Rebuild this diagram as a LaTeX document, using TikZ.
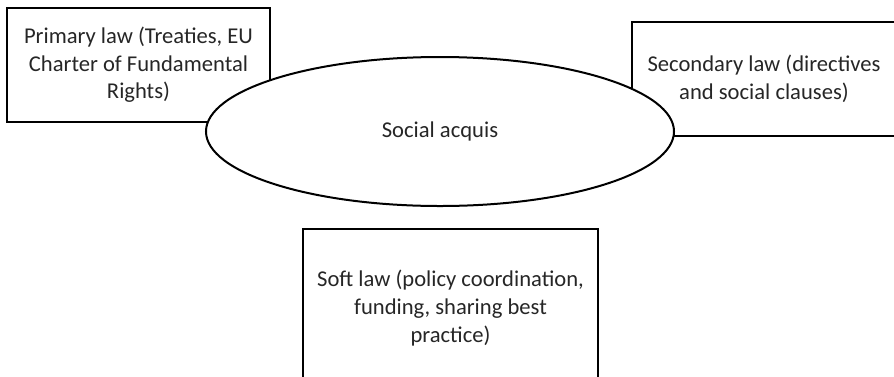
\documentclass[tikz,border=0pt]{standalone}
\usepackage{fontspec}
\setmainfont{Carlito}
\usetikzlibrary{shapes.geometric}

\begin{document}
\begin{tikzpicture}[x=0.5pt,y=-0.5pt,
    lawbox/.style={draw,line width=1pt,align=center,inner sep=0pt,
      text=black!85,font=\fontsize{11.3}{13.8}\selectfont},
    acquis/.style={ellipse,draw,fill=white,line width=1pt,inner sep=0pt,
      minimum width=234pt,minimum height=74.5pt,
      text=black!85,font=\fontsize{11.3}{13.8}\selectfont}]
  \useasboundingbox (0,0) rectangle (894,376);
  % the three sources, the ellipse goes on top of them
  \node[lawbox,minimum width=131.5pt,minimum height=57pt] (primary) at (138.5,65)
    {Primary law (Treaties, EU\\Charter of Fundamental\\Rights)};
  \node[lawbox,minimum width=132pt,minimum height=57pt] (secondary) at (764,79)
    {Secondary law (directives\\and social clauses)};
  \node[lawbox,minimum width=147.5pt,minimum height=79pt] (soft) at (450.5,308)
    {Soft law (policy coordination,\\funding, sharing best\\practice)};
  \node[acquis] (acquis) at (440,131.5) {Social acquis};
\end{tikzpicture}
\end{document}
